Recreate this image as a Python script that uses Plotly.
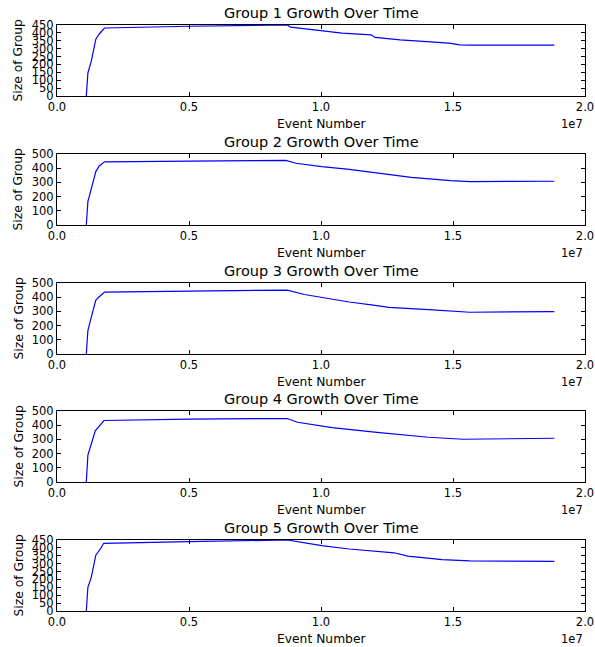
import plotly.graph_objects as go

# ---- data ----
group1_events = [1.11e6, 1.17e6, 1.30e6, 1.47e6, 1.60e6, 1.80e6, 5.0e6, 8.72e6, 8.85e6, 9.7e6, 10.8e6, 11.9e6, 12.05e6, 13.0e6, 14.07e6, 14.85e6, 15.25e6, 15.6e6, 18.84e6]
group1_sizes = [0, 146, 221, 360, 393, 431, 442, 450, 436, 418, 399, 388, 371, 356, 343, 335, 324, 322, 322]

group2_events = [1.11e6, 1.17e6, 1.34e6, 1.47e6, 1.60e6, 1.80e6, 5.0e6, 8.66e6, 9.05e6, 10.03e6, 11.07e6, 12.25e6, 13.42e6, 14.92e6, 15.64e6, 18.84e6]
group2_sizes = [0, 165, 285, 376, 416, 445, 450, 455, 435, 411, 392, 361, 335, 313, 306, 308]

group3_events = [1.11e6, 1.17e6, 1.25e6, 1.47e6, 1.60e6, 1.80e6, 5.0e6, 8.72e6, 9.37e6, 10.03e6, 11.07e6, 11.98e6, 12.57e6, 14.07e6, 15.64e6, 18.84e6]
group3_sizes = [0, 165, 225, 380, 403, 436, 443, 450, 419, 397, 366, 344, 328, 313, 294, 299]

group4_events = [1.11e6, 1.17e6, 1.45e6, 1.78e6, 5.0e6, 8.72e6, 9.11e6, 10.42e6, 12.12e6, 14.07e6, 15.38e6, 18.84e6]
group4_sizes = [0, 189, 361, 433, 443, 447, 421, 383, 349, 315, 301, 308]

group5_events = [1.11e6, 1.17e6, 1.30e6, 1.47e6, 1.64e6, 1.77e6, 5.0e6, 8.72e6, 10.03e6, 11.07e6, 12.77e6, 13.29e6, 14.59e6, 15.64e6, 18.84e6]
group5_sizes = [0, 150, 215, 354, 393, 429, 440, 450, 414, 393, 369, 348, 326, 318, 315]

group_names = ["Group 1", "Group 2", "Group 3", "Group 4", "Group 5"]
y_max = [450, 500, 500, 500, 450]
y_step = [50, 100, 100, 100, 50]
x_tick_values = [0, 0.5e7, 1.0e7, 1.5e7, 2.0e7]
x_tick_labels = ["0.0", "0.5", "1.0", "1.5", "2.0"]

events = [group1_events, group2_events, group3_events, group4_events, group5_events]
sizes = [group1_sizes, group2_sizes, group3_sizes, group4_sizes, group5_sizes]

# ---- layout geometry (pixels) ----
W, H = 595, 647
left_px, right_px = 57, 585
tops_px = [25, 154, 283, 411, 540]
panel_h = 71

FONT = "DejaVu Sans"
fig = go.Figure()
annotations = []
layout_axes = {}

for i in range(5):
    n = i + 1
    xa = "x" if n == 1 else f"x{n}"
    ya = "y" if n == 1 else f"y{n}"
    fig.add_trace(go.Scatter(
        x=events[i], y=sizes[i], mode="lines",
        line=dict(color="#0000ff", width=1.2),
        xaxis=xa, yaxis=ya, showlegend=False,
    ))
    top = tops_px[i]
    bot = top + panel_h
    y0 = 1 - bot / H
    y1 = 1 - top / H
    common = dict(
        showline=True, linecolor="black", linewidth=1, mirror="ticks",
        ticks="inside", ticklen=4, tickcolor="black", tickwidth=1,
        showgrid=False, zeroline=False, automargin=False,
        tickfont=dict(family=FONT, size=11.5, color="black"),
    )
    layout_axes[f"xaxis{n}"] = dict(
        domain=[left_px / W, right_px / W], anchor=ya.replace("y", "y") ,
        range=[0, 2.0e7], tickmode="array", tickvals=x_tick_values,
        ticktext=x_tick_labels, **common,
    )
    layout_axes[f"yaxis{n}"] = dict(
        domain=[y0, y1], anchor=xa,
        range=[0, y_max[i]], tickmode="linear", tick0=0, dtick=y_step[i],
        **common,
    )
    xc = (left_px + right_px) / 2 / W
    # title
    annotations.append(dict(
        text=f"{group_names[i]} Growth Over Time", x=xc, y=1 - (top - 2) / H,
        xref="paper", yref="paper", xanchor="center", yanchor="bottom",
        showarrow=False, font=dict(family=FONT, size=14.5, color="black"),
    ))
    # x label
    annotations.append(dict(
        text="Event Number", x=xc, y=1 - (bot + 28) / H,
        xref="paper", yref="paper", xanchor="center", yanchor="middle",
        showarrow=False, font=dict(family=FONT, size=12.3, color="black"),
    ))
    # offset text
    annotations.append(dict(
        text="1e7", x=right_px / W, y=1 - (bot + 28) / H,
        xref="paper", yref="paper", xanchor="right", yanchor="middle",
        showarrow=False, font=dict(family=FONT, size=11.5, color="black"),
    ))
    # y label
    annotations.append(dict(
        text="Size of Group", x=18 / W, y=1 - (top + panel_h / 2) / H,
        xref="paper", yref="paper", xanchor="center", yanchor="middle",
        textangle=-90, showarrow=False,
        font=dict(family=FONT, size=12.3, color="black"),
    ))

fig.update_layout(
    width=W, height=H,
    margin=dict(l=0, r=0, t=0, b=0),
    paper_bgcolor="white", plot_bgcolor="white",
    annotations=annotations,
    **layout_axes,
)

fig.write_html("out.html")
